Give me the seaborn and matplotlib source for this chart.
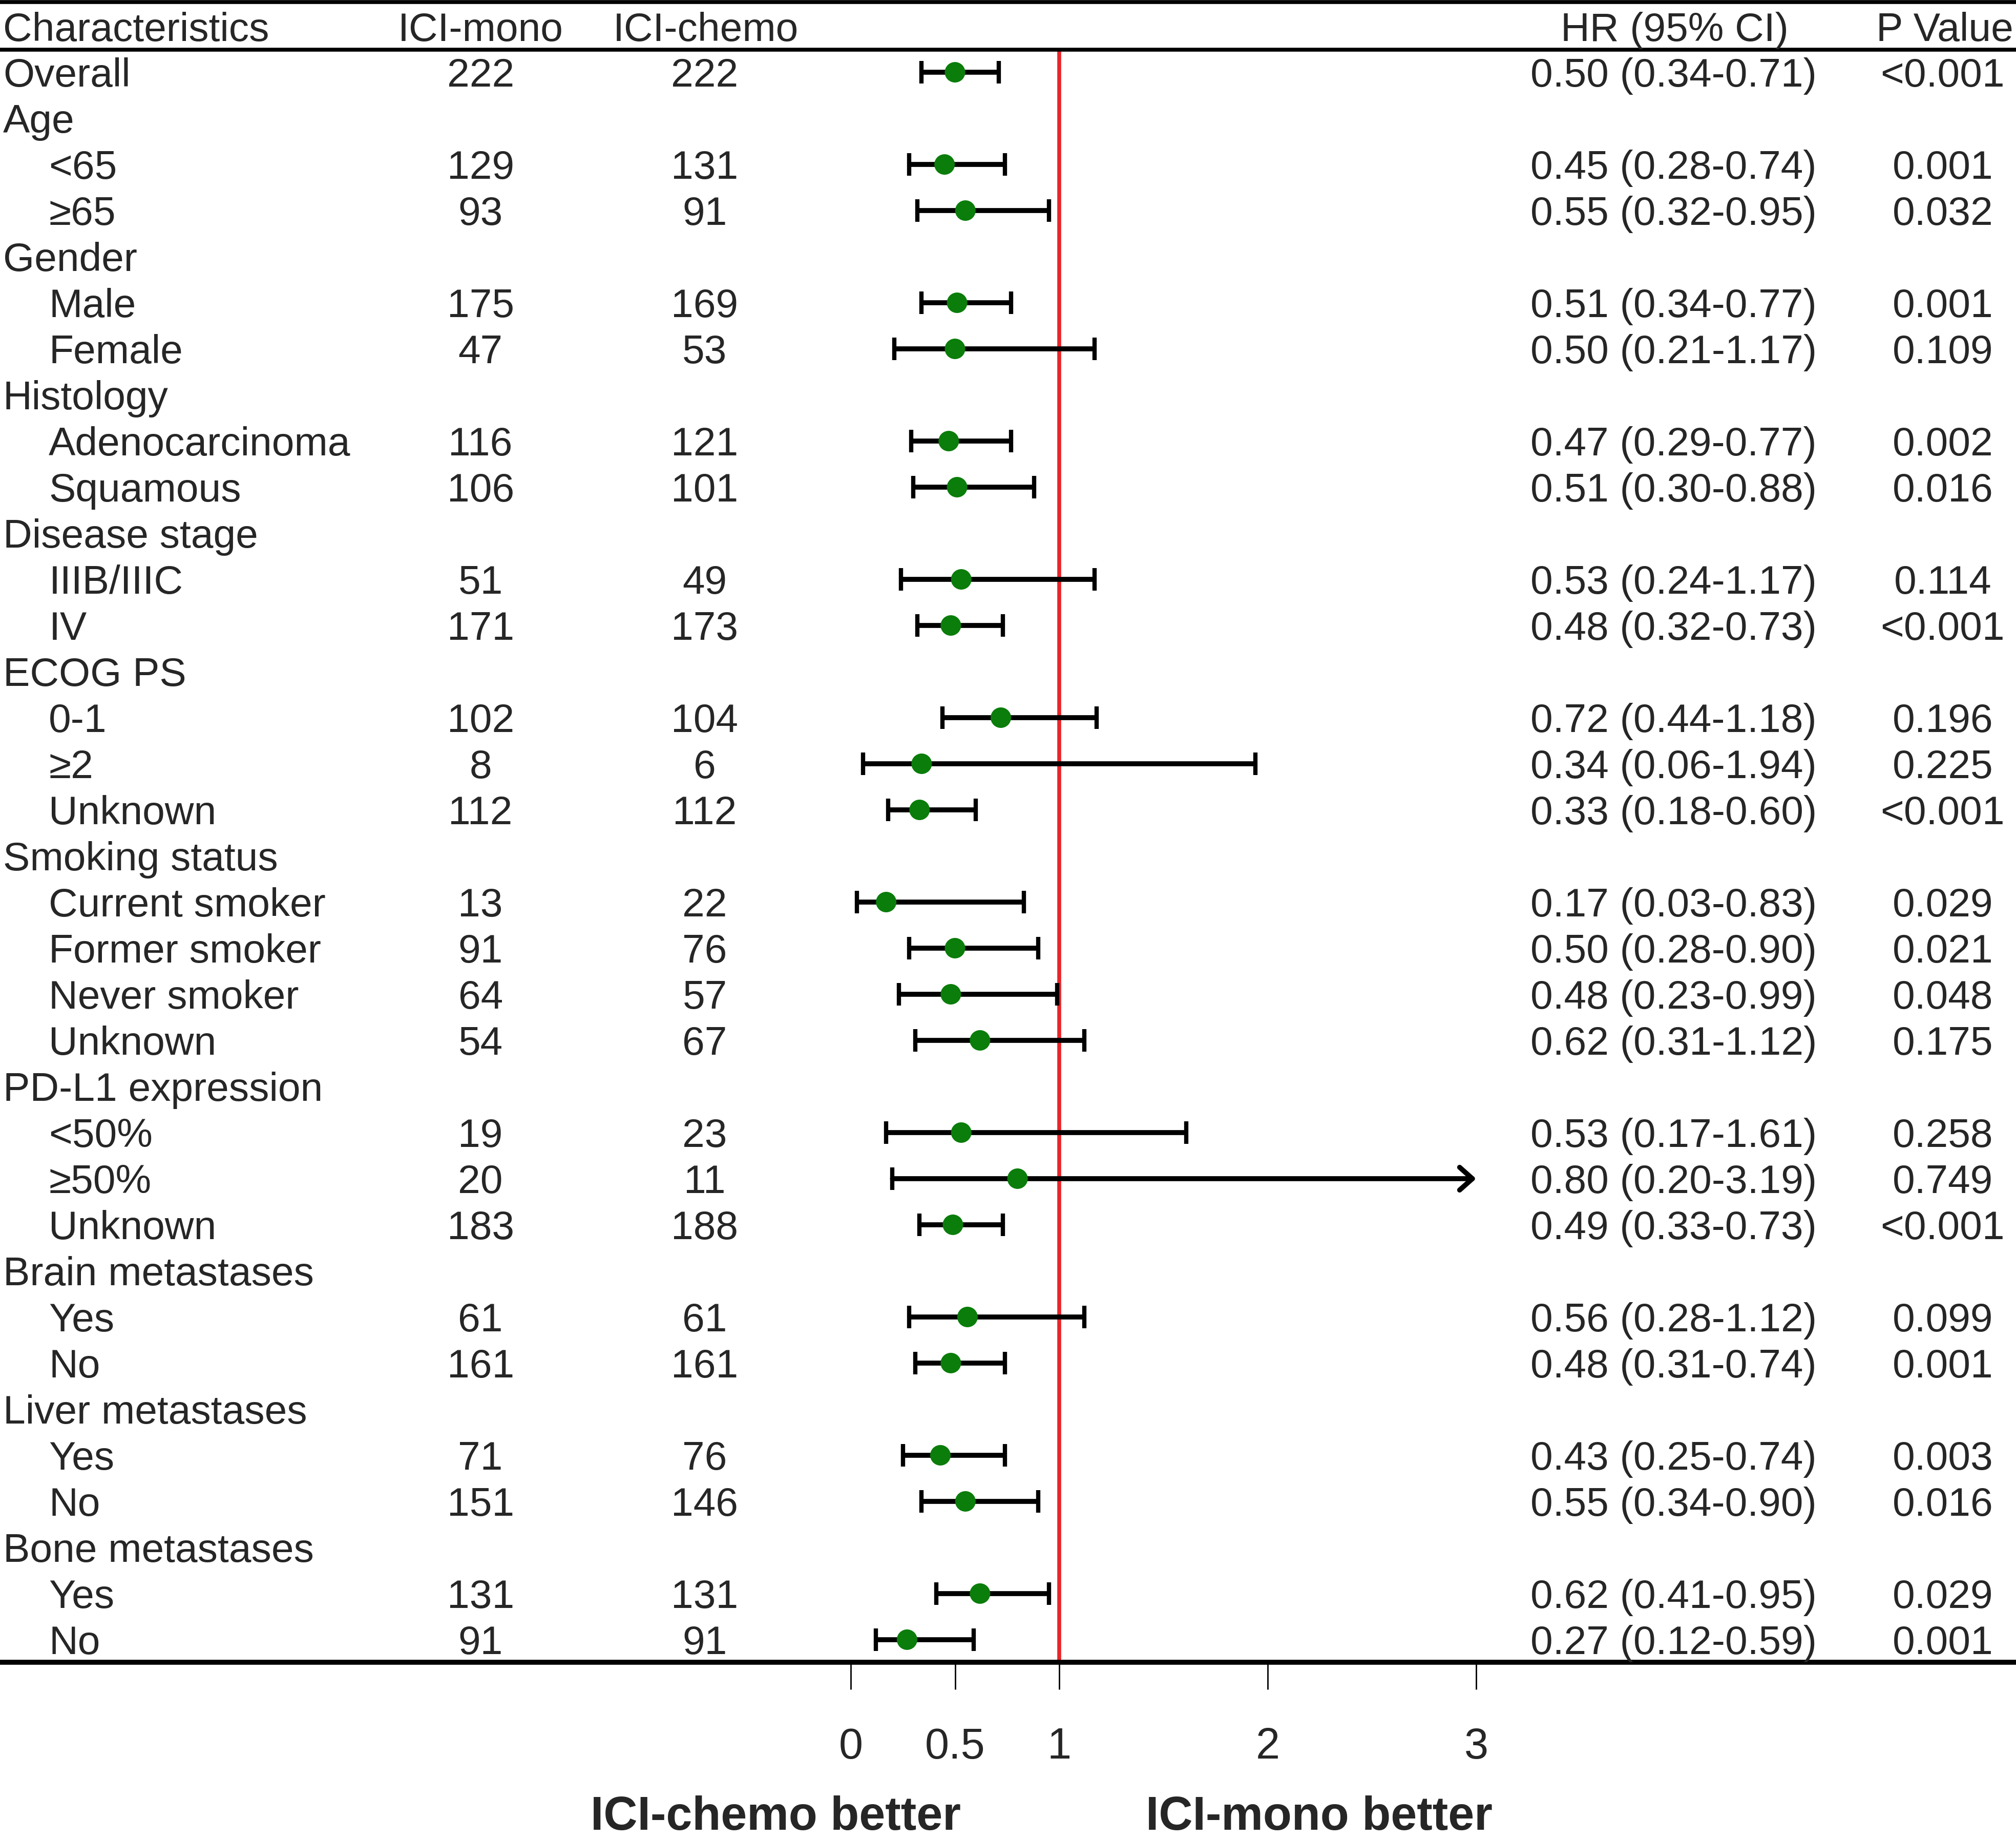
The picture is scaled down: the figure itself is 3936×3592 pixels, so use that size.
import numpy as np
import pandas as pd
import matplotlib.pyplot as plt
import matplotlib.transforms as mtransforms
import seaborn as sns

# ---- data ----
characteristics = [
    "Overall", "Age", "<65", "≥65", "Gender", "Male", "Female",
    "Histology", "Adenocarcinoma", "Squamous", "Disease stage", "IIIB/IIIC", "IV",
    "ECOG PS", "0-1", "≥2", "Unknown",
    "Smoking status", "Current smoker", "Former smoker", "Never smoker", "Unknown",
    "PD-L1 expression", "<50%", "≥50%", "Unknown",
    "Brain metastases", "Yes", "No",
    "Liver metastases", "Yes", "No",
    "Bone metastases", "Yes", "No",
]
is_group = [
    True, True, False, False, True, False, False,
    True, False, False, True, False, False,
    True, False, False, False,
    True, False, False, False, False,
    True, False, False, False,
    True, False, False,
    True, False, False,
    True, False, False,
]
n_mono = [222, None, 129, 93, None, 175, 47, None, 116, 106, None, 51, 171,
          None, 102, 8, 112, None, 13, 91, 64, 54, None, 19, 20, 183,
          None, 61, 161, None, 71, 151, None, 131, 91]
n_chemo = [222, None, 131, 91, None, 169, 53, None, 121, 101, None, 49, 173,
           None, 104, 6, 112, None, 22, 76, 57, 67, None, 23, 11, 188,
           None, 61, 161, None, 76, 146, None, 131, 91]
hr = [0.50, None, 0.45, 0.55, None, 0.51, 0.50, None, 0.47, 0.51, None, 0.53, 0.48,
      None, 0.72, 0.34, 0.33, None, 0.17, 0.50, 0.48, 0.62, None, 0.53, 0.80, 0.49,
      None, 0.56, 0.48, None, 0.43, 0.55, None, 0.62, 0.27]
ci_low = [0.34, None, 0.28, 0.32, None, 0.34, 0.21, None, 0.29, 0.30, None, 0.24, 0.32,
          None, 0.44, 0.06, 0.18, None, 0.03, 0.28, 0.23, 0.31, None, 0.17, 0.20, 0.33,
          None, 0.28, 0.31, None, 0.25, 0.34, None, 0.41, 0.12]
ci_high = [0.71, None, 0.74, 0.95, None, 0.77, 1.17, None, 0.77, 0.88, None, 1.17, 0.73,
           None, 1.18, 1.94, 0.60, None, 0.83, 0.90, 0.99, 1.12, None, 1.61, 3.19, 0.73,
           None, 1.12, 0.74, None, 0.74, 0.90, None, 0.95, 0.59]
p_values = ["<0.001", None, "0.001", "0.032", None, "0.001", "0.109", None, "0.002", "0.016",
            None, "0.114", "<0.001", None, "0.196", "0.225", "<0.001", None, "0.029", "0.021",
            "0.048", "0.175", None, "0.258", "0.749", "<0.001", None, "0.099", "0.001",
            None, "0.003", "0.016", None, "0.029", "0.001"]
x_ticks = [0, 0.5, 1, 2, 3]
x_tick_labels = ["0", "0.5", "1", "2", "3"]

df = pd.DataFrame({
    "label": characteristics, "group": is_group, "mono": n_mono, "chemo": n_chemo,
    "hr": hr, "lo": ci_low, "hi": ci_high, "p": p_values,
})
df["row"] = np.arange(len(df))
est = df.dropna(subset=["hr"]).copy()
x_max = max(x_ticks)
clipped = est["hi"] > x_max

sns.set_theme(style="white")
plt.rcParams["font.family"] = ["Liberation Sans", "DejaVu Sans"]

GREEN = "#0A7D0A"
RED = "#E8262A"
FS = 56.5

fig = plt.figure(figsize=(39.37, 35.92), dpi=100)
ax = fig.add_axes([0, 0.0966, 1, 0.8764])

ax.axvline(1, color=RED, lw=5.5, zorder=1)

ok = est[~clipped]
ax.errorbar(ok["hr"], ok["row"], xerr=[ok["hr"] - ok["lo"], ok["hi"] - ok["hr"]],
            fmt="none", ecolor="black", elinewidth=7, capsize=16, capthick=6, zorder=2)

# upper limit beyond the axis: lower cap plus an arrow to the edge
cut = est[clipped]
ax.plot(cut["lo"], cut["row"], ls="none", marker="|", ms=32, mew=6, color="black", zorder=2)
for _, r in cut.iterrows():
    ax.annotate("", xy=(x_max, r["row"]), xytext=(r["lo"], r["row"]),
                arrowprops=dict(arrowstyle="->,head_length=0.45,head_width=0.4",
                                mutation_scale=40, lw=7, color="black",
                                shrinkA=0, shrinkB=0), zorder=2)

sns.scatterplot(data=est, x="hr", y="row", s=830, color=GREEN, edgecolor="none",
                zorder=3, legend=False, ax=ax)

ax.set_xlim(-4.081, 5.592)
ax.set_ylim(34.49, -0.49)
ax.set_xlabel("")
ax.set_ylabel("")
ax.set_yticks([])
ax.set_xticks(x_ticks)
ax.set_xticklabels(x_tick_labels, fontsize=61)
ax.tick_params(axis="x", direction="out", length=38, width=2, pad=53,
               bottom=True, color="black")
for side in ["left", "right"]:
    ax.spines[side].set_visible(False)
ax.spines["top"].set_linewidth(5.5)
ax.spines["bottom"].set_linewidth(7)
ax.spines["top"].set_color("black")
ax.spines["bottom"].set_color("black")
ax.axhline(-1.522, color="black", lw=5.5, clip_on=False)

# table text: x in axes fraction, y in rows
tr = mtransforms.blended_transform_factory(ax.transAxes, ax.transData)
head_y = -0.678
ax.text(0.0015, head_y, "Characteristics", transform=tr, fontsize=FS, ha="left", va="baseline")
ax.text(0.2383, head_y, "ICI-mono", transform=tr, fontsize=FS, ha="center", va="baseline")
ax.text(0.3500, head_y, "ICI-chemo", transform=tr, fontsize=FS, ha="center", va="baseline")
ax.text(0.8305, head_y, "HR (95% CI)", transform=tr, fontsize=FS, ha="center", va="baseline")
ax.text(0.9645, head_y, "P Value", transform=tr, fontsize=FS, ha="center", va="baseline")

for _, r in df.iterrows():
    y = r["row"] + 0.31
    x0 = 0.0015 if r["group"] else 0.0242
    ax.text(x0, y, r["label"], transform=tr, fontsize=FS, ha="left", va="baseline")
    if pd.isna(r["hr"]):
        continue
    ax.text(0.2383, y, f"{int(r['mono'])}", transform=tr, fontsize=FS, ha="center", va="baseline")
    ax.text(0.3495, y, f"{int(r['chemo'])}", transform=tr, fontsize=FS, ha="center", va="baseline")
    ax.text(0.8300, y, f"{r['hr']:.2f} ({r['lo']:.2f}-{r['hi']:.2f})", transform=tr,
            fontsize=FS, ha="center", va="baseline")
    ax.text(0.9634, y, r["p"], transform=tr, fontsize=FS, ha="center", va="baseline")

ax.text(0.3846, 38.12, "ICI-chemo better", transform=tr, fontsize=66, fontweight="bold",
        ha="center", va="baseline")
ax.text(0.6543, 38.12, "ICI-mono better", transform=tr, fontsize=66, fontweight="bold",
        ha="center", va="baseline")

fig.savefig("out.png", dpi=100)
